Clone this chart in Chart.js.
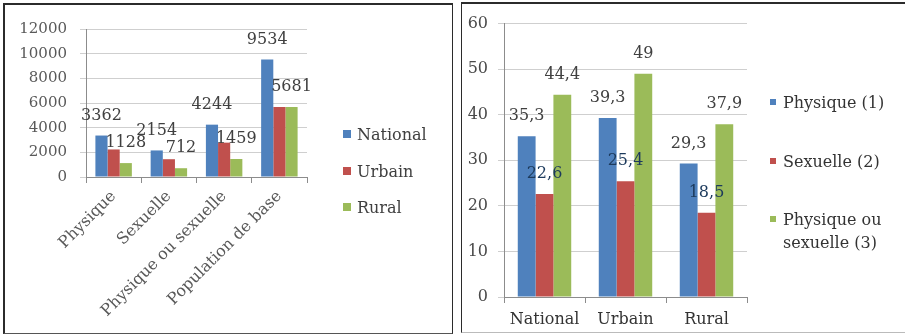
<!DOCTYPE html>
<html>
<head>
<meta charset="utf-8">
<script src="https://cdn.jsdelivr.net/npm/chart.js@4/dist/chart.umd.min.js"></script>
<style>
  html, body { margin: 0; padding: 0; background: #ffffff; }
  body { width: 905px; height: 335px; position: relative; overflow: hidden; }
  .box { position: absolute; box-sizing: border-box; background: #fff; }
  #boxA { left: 3px; top: 3px; width: 450px; height: 331px; border: 2px solid #2b2b2b; border-right-width: 1px; border-bottom: 1px solid #555; }
  #boxB { left: 461px; top: 2px; width: 450px; height: 331px; border: 1px solid #2b2b2b; border-top-width: 2px; border-bottom: 1px solid #bbb; }
  canvas { position: absolute; }
  #cA { left: 5px; top: 5px; }
  #cB { left: 463px; top: 4px; }
</style>
</head>
<body>
<div class="box" id="boxA"></div>
<div class="box" id="boxB"></div>
<canvas id="cA" width="446" height="327"></canvas>
<canvas id="cB" width="442" height="328"></canvas>
<script>
// Effectifs : violences subies par milieu de résidence
const countCategories = ['Physique', 'Sexuelle', 'Physique ou sexuelle', 'Population de base'];
const countNational = [3362, 2154, 4244, 9534];
const countUrbain = [2234, 1442, 2785, 5681];
const countRural = [1128, 712, 1459, 5681];
const countTicks = [0, 2000, 4000, 6000, 8000, 10000, 12000];

// Prévalences (%) par type de violence
const rateCategories = ['National', 'Urbain', 'Rural'];
const ratePhysique = [35.3, 39.3, 29.3];
const rateSexuelle = [22.6, 25.4, 18.5];
const rateEither = [44.4, 49, 37.9];
const rateTicks = [0, 10, 20, 30, 40, 50, 60];

const BLUE = '#4F81BD', RED = '#C0504D', GREEN = '#9BBB59';
const SERIF = '"DejaVu Serif", "Liberation Serif", serif';

// Value labels drawn above bars of the flagged datasets
const valueLabels = {
  id: 'valueLabels',
  afterDatasetsDraw(chart, args, opts) {
    const ctx = chart.ctx;
    ctx.save();
    ctx.font = opts.font;
    ctx.textAlign = 'center';
    ctx.textBaseline = 'middle';
    chart.data.datasets.forEach((ds, i) => {
      if (!ds.showValues) return;
      const meta = chart.getDatasetMeta(i);
      ctx.fillStyle = ds.valueColor || '#404040';
      meta.data.forEach((bar, j) => {
        const v = ds.data[j];
        ctx.fillText(opts.format(v), bar.x, bar.y - opts.gap);
      });
    });
    ctx.restore();
  }
};

// Legend at the right of the plot, one entry per dataset (lines may wrap)
const sideLegend = {
  id: 'sideLegend',
  afterDraw(chart, args, opts) {
    const ctx = chart.ctx;
    ctx.save();
    ctx.font = opts.font;
    ctx.textBaseline = 'middle';
    ctx.textAlign = 'left';
    chart.data.datasets.forEach((ds, i) => {
      const y = opts.y[i];
      ctx.fillStyle = ds.backgroundColor;
      ctx.fillRect(opts.x, y - opts.box / 2 - 2, opts.box, opts.box);
      ctx.fillStyle = opts.color;
      const lines = ds.legendLines || [ds.label];
      lines.forEach((t, k) => ctx.fillText(t, opts.x + opts.box + opts.gap, y + k * opts.lineHeight));
    });
    ctx.restore();
  }
};

function fixedWidth(w) { return (scale) => { scale.width = w; }; }
function fixedHeight(h) { return (scale) => { scale.height = h; }; }
const plain = (v) => String(v);

new Chart(document.getElementById('cA'), {
  type: 'bar',
  data: {
    labels: countCategories,
    datasets: [
      { label: 'National', data: countNational, backgroundColor: BLUE, showValues: true },
      { label: 'Urbain', data: countUrbain, backgroundColor: RED },
      { label: 'Rural', data: countRural, backgroundColor: GREEN, showValues: true }
    ]
  },
  options: {
    responsive: false,
    animation: false,
    events: [],
    layout: { padding: { top: 24, right: 144, left: 0, bottom: 0 } },
    datasets: { bar: { categoryPercentage: 0.66, barPercentage: 1 } },
    scales: {
      x: {
        afterFit: fixedHeight(155),
        grid: { offset: true, drawOnChartArea: false, tickLength: 6, color: '#8c8c8c' },
        border: { color: '#8c8c8c' },
        ticks: { minRotation: 45, maxRotation: 45, autoSkip: false, padding: 4, color: '#595959', font: { family: SERIF, size: 16 } }
      },
      y: {
        min: 0, max: 12000,
        afterFit: fixedWidth(81),
        afterBuildTicks: (s) => { s.ticks = countTicks.map(v => ({ value: v })); },
        grid: { color: '#cfcfcf', tickLength: 6 },
        border: { color: '#8c8c8c' },
        ticks: { padding: 13, color: '#595959', callback: plain, font: { family: SERIF, size: 15 } }
      }
    },
    plugins: {
      legend: { display: false },
      tooltip: { enabled: false },
      valueLabels: { font: '16px ' + SERIF, gap: 20, format: plain },
      sideLegend: { x: 338, y: [131, 168, 204], box: 8, gap: 6, lineHeight: 20, color: '#404040', font: '16px ' + SERIF }
    }
  },
  plugins: [valueLabels, sideLegend]
});

new Chart(document.getElementById('cB'), {
  type: 'bar',
  data: {
    labels: rateCategories,
    datasets: [
      { label: 'Physique (1)', data: ratePhysique, backgroundColor: BLUE, showValues: true },
      { label: 'Sexuelle (2)', data: rateSexuelle, backgroundColor: RED, showValues: true, valueColor: '#1c3a5c' },
      { label: 'Physique ou sexuelle (3)', legendLines: ['Physique ou', 'sexuelle (3)'], data: rateEither, backgroundColor: GREEN, showValues: true }
    ]
  },
  options: {
    responsive: false,
    animation: false,
    events: [],
    layout: { padding: { top: 11, right: 158, left: 0, bottom: 0 } },
    datasets: { bar: { categoryPercentage: 0.66, barPercentage: 1 } },
    scales: {
      x: {
        afterFit: fixedHeight(35),
        grid: { offset: true, drawOnChartArea: false, tickLength: 6, color: '#8c8c8c' },
        border: { color: '#8c8c8c' },
        ticks: { padding: 7, color: '#333333', font: { family: SERIF, size: 16 } }
      },
      y: {
        min: 0, max: 60,
        afterFit: fixedWidth(41),
        afterBuildTicks: (s) => { s.ticks = rateTicks.map(v => ({ value: v })); },
        grid: { color: '#cfcfcf', tickLength: 6 },
        border: { color: '#8c8c8c' },
        ticks: { padding: 10, color: '#4a4a4a', font: { family: SERIF, size: 16 } }
      }
    },
    plugins: {
      legend: { display: false },
      tooltip: { enabled: false },
      valueLabels: { font: '16px ' + SERIF, gap: 20, format: (v) => String(v).replace('.', ',') },
      sideLegend: { x: 307, y: [100, 159, 217], box: 6, gap: 7, lineHeight: 23, color: '#333333', font: '16px ' + SERIF }
    }
  },
  plugins: [valueLabels, sideLegend]
});
</script>
</body>
</html>
